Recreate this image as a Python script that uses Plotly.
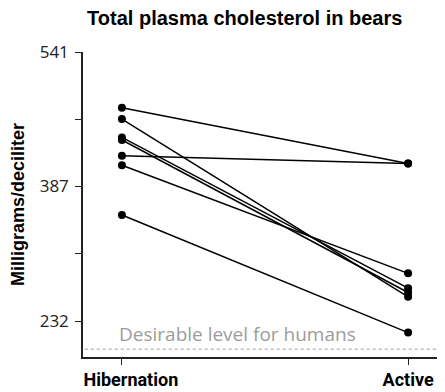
import plotly.graph_objects as go

categories = ["Hibernation", "Active"]
hibernation = [477, 464, 443, 440, 422, 411, 354]
active = [413, 260, 270, 265, 413, 287, 219]
y_tick_vals = [232, 309.5, 387, 464, 541]
y_tick_text = ["232", "", "387", "", "541"]
desirable_level = 200

fig = go.Figure()
for h, a in zip(hibernation, active):
    fig.add_trace(go.Scatter(
        x=[0, 1], y=[h, a], mode="lines+markers",
        line=dict(color="black", width=1.5),
        marker=dict(color="black", size=8),
        showlegend=False, hoverinfo="skip", cliponaxis=False))

fig.add_shape(type="line", xref="paper", x0=0.005, x1=1, yref="y",
              y0=desirable_level, y1=desirable_level,
              line=dict(color="#999999", width=1, dash="dot"))
fig.add_annotation(x=0, xref="x", xanchor="left", xshift=-5,
                   y=desirable_level, yref="y", yanchor="bottom", yshift=0,
                   text="Desirable level for humans", showarrow=False,
                   font=dict(family="Open Sans", size=19, color="#9c9c9c"))

# left label sits flush with the plot's left edge in the reference
x_tick_text = ["&nbsp;&nbsp;&nbsp;&nbsp;<b>" + categories[0] + "</b>",
               "<b>" + categories[1] + "</b>"]

fig.update_layout(
    width=445, height=392,
    margin=dict(l=83, r=8, t=52, b=35),
    paper_bgcolor="white", plot_bgcolor="white",
    title=dict(text="<b>Total plasma cholesterol in bears</b>", x=0.55, xanchor="center",
               y=0.955, yanchor="middle",
               font=dict(family="Liberation Sans", size=20, color="black")),
    xaxis=dict(range=[-0.136, 1.101], tickvals=[0, 1], automargin=False,
               ticktext=x_tick_text,
               showline=True, linecolor="#222", linewidth=1.5,
               ticks="outside", ticklen=6, tickcolor="#222",
               showgrid=False, zeroline=False,
               tickfont=dict(family="Roboto", size=18, color="black")),
    yaxis=dict(range=[191, 541], tickvals=y_tick_vals, ticktext=y_tick_text, automargin=False,
               showline=True, linecolor="#222", linewidth=1.5,
               ticks="outside", ticklen=6, tickcolor="#222",
               showgrid=False, zeroline=False, ticklabelstandoff=3,
               tickfont=dict(family="Open Sans", size=17, color="#222"),
               title=dict(text="<b>Milligrams/deciliter</b>", standoff=10,
                          font=dict(family="Liberation Sans", size=18, color="black"))),
)

fig.write_html("out.html", config={"displayModeBar": False},
               post_script="document.body.style.margin='0';")
